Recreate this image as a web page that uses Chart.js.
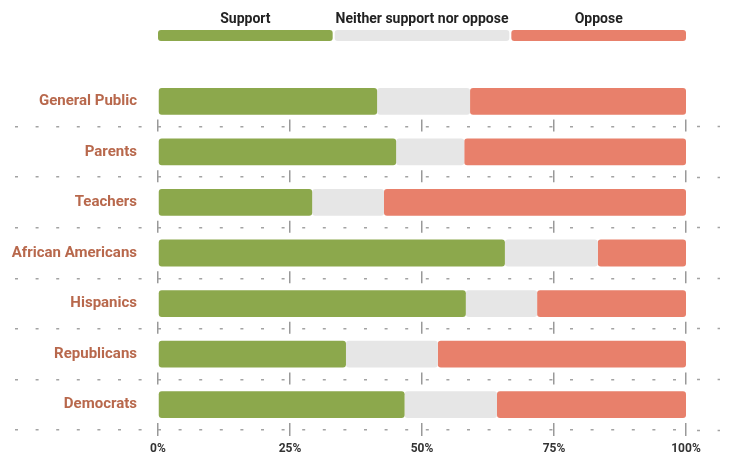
<!DOCTYPE html>
<html>
<head>
<meta charset="utf-8">
<title>Support / oppose by group</title>
<script src="https://cdn.jsdelivr.net/npm/chart.js@4.4.1/dist/chart.umd.min.js"></script>
<style>
    html, body { margin: 0; padding: 0; background: #fff; }
    #wrap { width: 733px; height: 457px; }
</style>
</head>
<body>
<div id="wrap"><canvas id="chart" width="733" height="457"></canvas></div>
<script>
// Groups, top to bottom
const groups = ['General Public', 'Parents', 'Teachers', 'African Americans', 'Hispanics', 'Republicans', 'Democrats'];

// Shares in percent
const support = [41.5, 45.1, 29.2, 65.7, 58.3, 35.6, 46.7];
const neither = [17.6, 12.9, 13.6, 17.6, 13.5, 17.4, 17.5];
const oppose  = [40.9, 42.0, 57.2, 16.7, 28.2, 47.0, 35.8];

const seriesNames = ['Support', 'Neither support nor oppose', 'Oppose'];
const xTicks = [0, 25, 50, 75, 100];

const COLORS = ['#8ca84c', '#e6e6e6', '#e8806b'];
const GRID = '#a3a3a3';
const DASH = [3, 17.6];

// no separator above the first group
function sepColor(ctx) {
    return ctx.index === 0 ? 'rgba(0,0,0,0)' : GRID;
}

// short marks on the vertical grid lines, centred on each row separator
function quarterMarks(ctx) {
    const area = ctx.chart.chartArea;
    if (!area) return [];
    const h = (area.bottom - area.top) / groups.length;
    const dash = [0, h - 7];
    for (let i = 1; i < groups.length; i++) dash.push(12, h - 12);
    dash.push(12, h);
    return dash;
}

// legend drawn as one strip split in three, labels on top
const stripLegend = {
    id: 'stripLegend',
    afterDraw(chart) {
        const {ctx, chartArea} = chart;
        const gap = 2;
        const w = (chartArea.right - chartArea.left - gap * 2) / 3;
        ctx.save();
        chart.data.datasets.forEach((ds, i) => {
            const x = chartArea.left + i * (w + gap);
            ctx.fillStyle = ds.backgroundColor;
            ctx.beginPath();
            ctx.roundRect(x, 30, w, 11, 3);
            ctx.fill();
            ctx.fillStyle = '#222';
            ctx.font = 'bold 14px Roboto';
            ctx.textAlign = 'center';
            ctx.textBaseline = 'middle';
            ctx.fillText(ds.label, x + w / 2, 19);
        });
        ctx.restore();
    }
};

const radius = {topLeft: 3, topRight: 3, bottomLeft: 3, bottomRight: 3};

function makeSet(i, values) {
    return {
        label: seriesNames[i],
        data: values,
        backgroundColor: COLORS[i],
        borderWidth: 0,
        borderRadius: radius,
        borderSkipped: false,
        barPercentage: 0.53,
        categoryPercentage: 1
    };
}

new Chart(document.getElementById('chart'), {
    type: 'bar',
    data: {
        labels: groups,
        datasets: [makeSet(0, support), makeSet(1, neither), makeSet(2, oppose)]
    },
    options: {
        indexAxis: 'y',
        responsive: false,
        animation: false,
        layout: { padding: { top: 76, right: 13, bottom: 0, left: 0 } },
        plugins: {
            legend: { display: false },
            tooltip: { enabled: false }
        },
        scales: {
            x: {
                stacked: true,
                min: 0,
                max: 100,
                afterBuildTicks(scale) {
                    scale.ticks = xTicks.map(v => ({ value: v }));
                },
                ticks: {
                    callback: v => v + '%',
                    color: '#333',
                    padding: 6,
                    maxRotation: 0,
                    font: { family: 'Roboto', size: 12, weight: 'bold' }
                },
                grid: {
                    color: '#999',
                    lineWidth: 1.5,
                    tickLength: 6,
                    tickColor: '#999',
                    tickWidth: 1.5
                },
                border: { display: false, dash: quarterMarks },
                afterFit(scale) { scale.height = 27; }
            },
            y: {
                stacked: true,
                grid: {
                    offset: true,
                    color: sepColor,
                    lineWidth: 1.5,
                    tickLength: 143,
                    tickColor: sepColor,
                    tickWidth: 1.5,
                    tickBorderDash: DASH
                },
                border: { display: false, dash: DASH },
                ticks: {
                    padding: -122,
                    color: '#b8684c',
                    font: { family: 'Roboto', size: 15, weight: 'bold' }
                },
                afterFit(scale) { scale.width = 158; }
            },
            yRight: {
                type: 'category',
                position: 'right',
                offset: true,
                grid: {
                    offset: true,
                    drawOnChartArea: false,
                    tickLength: 34,
                    tickColor: sepColor,
                    tickWidth: 1.5,
                    tickBorderDash: DASH,
                    tickBorderDashOffset: 9.6
                },
                border: { display: false },
                ticks: { display: false }
            }
        }
    },
    plugins: [stripLegend]
});
</script>
</body>
</html>
